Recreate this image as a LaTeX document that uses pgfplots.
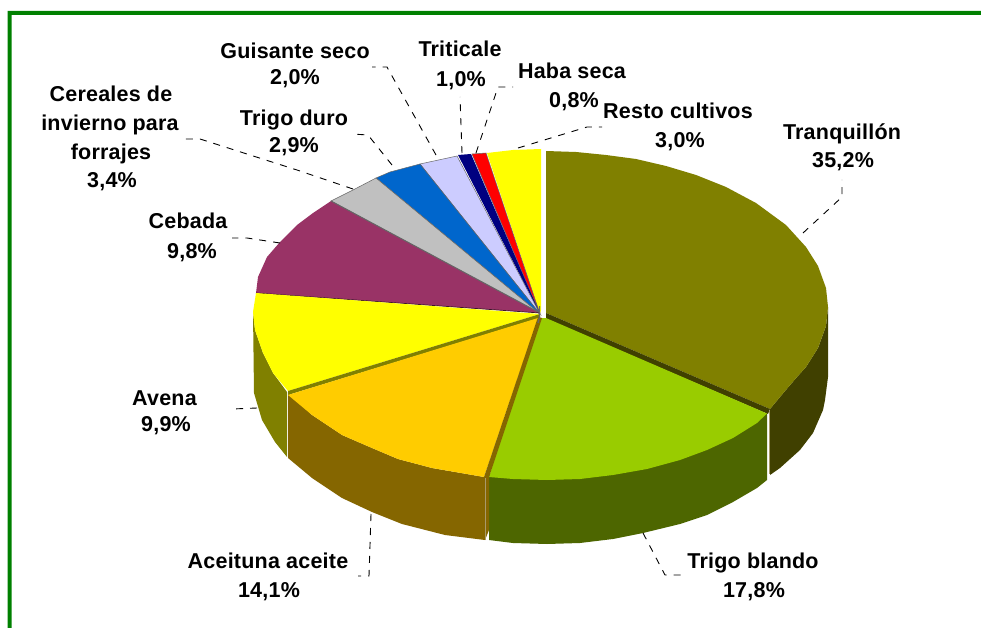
\documentclass[border=0pt]{standalone}
\usepackage{fontspec}
\setmainfont{Liberation Sans}[LetterSpace=1]
\usepackage{pgfplots}
\pgfplotsset{compat=1.18}
\definecolor{frame}{HTML}{008000}
\definecolor{olivetop}{HTML}{808000}
\definecolor{oliveside}{HTML}{404000}
\definecolor{greentop}{HTML}{99CC00}
\definecolor{greenside}{HTML}{4D6600}
\definecolor{orangetop}{HTML}{FFCC00}
\definecolor{orangeside}{HTML}{856600}
\definecolor{tanline}{HTML}{A89A6A}
\definecolor{yellowtop}{HTML}{FFFF00}
\definecolor{redtop}{HTML}{FF0000}
\definecolor{purpletop}{HTML}{993366}
\definecolor{greytop}{HTML}{C0C0C0}
\definecolor{bluetop}{HTML}{0066CC}
\definecolor{lavtop}{HTML}{CCCCFF}
\definecolor{navytop}{HTML}{000080}
\definecolor{edge}{HTML}{666666}
\tikzset{
    leader/.style={black, line width=0.9pt, dash pattern=on 7pt off 7pt},
    lbl/.style={anchor=base, inner sep=0pt, font=\fontsize{21.5}{21.5}\selectfont\bfseries},
}
\begin{document}
\begin{tikzpicture}
\begin{axis}[
    width=981pt, height=628pt, scale only axis,
    xmin=0, xmax=981, ymin=0, ymax=628,
    y dir=reverse, hide axis, no markers,
]
% white page and frame
\addplot[fill=white, draw=none] coordinates {(0,0) (981,0) (981,628) (0,628)};
\addplot[fill=frame, draw=none] coordinates {(7.5,11) (981,11) (981,15) (11.5,15) (11.5,628) (7.5,628)};

% side walls
\addplot[fill=oliveside, draw=none] coordinates {(828,307) (826,326) (818,348) (806,367) (797,377) (785,391) (770,409) (770,475) (780,468) (800,450) (813,433) (823,410) (825,400) (828,377)};
\addplot[fill=greenside, draw=none] coordinates {(767,412) (757,421) (733,436) (707,448) (680,458) (647,467) (613,473) (580,477) (547,478) (513,477) (489,475) (489,540) (513,543) (547,544) (580,543) (613,539) (643,533) (680,524) (707,515) (733,502) (757,488) (767,480)};
\addplot[tanline, line width=0.8pt] coordinates {(769,411) (769,474)};
\addplot[fill=orangeside, draw=none] coordinates {(288,393) (312,415) (342,435) (372,448) (398,459) (432,468) (484,477) (489,477) (489,530) (485,540) (445,535) (402,524) (372,512) (342,498) (312,478) (288,458)};
\addplot[tanline, line width=0.8pt] coordinates {(485,478) (485,540)};
\addplot[fill=olivetop, draw=none] coordinates {(253,312) (255,330) (263,353) (273,373) (287,392) (287,457) (275,442) (262,420) (254,393)};

% top faces, back row
\addplot[fill=yellowtop, draw=none] coordinates {(540,314) (487,153) (513,150) (541,149) (541,310)};
\addplot[fill=redtop, draw=edge, line width=0.5pt] coordinates {(540,314) (472,154) (486,153)} --cycle;
\addplot[fill=navytop, draw=none] coordinates {(540,314) (458,155) (471,154)};
\addplot[fill=lavtop, draw=edge, line width=0.5pt] coordinates {(540,314) (420,164) (457,156)} --cycle;
\addplot[fill=bluetop, draw=edge, line width=0.5pt] coordinates {(540,314) (376,178) (390,172) (420,164)} --cycle;
\addplot[fill=greytop, draw=edge, line width=0.5pt] coordinates {(540,314) (331,201) (353,190) (376,178)} --cycle;
\addplot[fill=purpletop, draw=none] coordinates {(540,313) (256,293) (258,277) (267,257) (280,242) (297,225) (313,213) (331,201)};
\addplot[edge, line width=1pt] coordinates {(331,201) (540,313)};
\addplot[black!60!purpletop, line width=0.7pt] coordinates {(256,293) (540,313)};
\addplot[fill=yellowtop, draw=none] coordinates {(540,314) (256,293) (253,312) (255,330) (263,353) (273,373) (288,391)};
\addplot[fill=olivetop, draw=none] coordinates {(288,391) (540,314) (540,318) (288,395)};

% top faces, front row
\addplot[fill=olivetop, draw=none] coordinates {(546,151) (576,152) (606,155) (636,159) (666,166) (696,175) (726,187) (756,203) (786,225) (806,247) (818,266) (826,288) (828,307) (826,326) (818,348) (806,367) (797,377) (785,391) (770,409) (546,313)};
\addplot[fill=oliveside, draw=none] coordinates {(546,313) (770,409) (768,414) (546,319)};
\addplot[fill=greentop, draw=none] coordinates {(542,318) (546,318) (767,413.5) (757,423) (733,438) (707,450) (680,460) (647,469) (613,475) (580,479) (547,480) (513,479) (489,477) (534,330)};
\addplot[fill=orangetop, draw=none] coordinates {(538,318) (288,395) (312,415) (342,435) (372,448) (398,459) (432,468) (484,477)};
\addplot[fill=orangeside, draw=none] coordinates {(538,317) (542,318) (489,477) (484,477)};
\addplot[edge, line width=1.4pt] coordinates {(539.5,306) (539.5,317) (538,323)};

% leader lines
\addplot[leader] coordinates {(803,233) (842,197) (842,180)};
\addplot[leader] coordinates {(643,533) (665,575) (682,575)};
\addplot[leader] coordinates {(371,514) (369,576) (358,576)};
\addplot[leader] coordinates {(257,408) (232,409)};
\addplot[leader] coordinates {(280,243) (247,238) (232,238)};
\addplot[leader] coordinates {(353,189) (297,170) (200,139) (183,139)};
\addplot[leader] coordinates {(392,165) (368,135) (352,134)};
\addplot[leader] coordinates {(436,155) (387,67) (372,67)};
\addplot[leader] coordinates {(462,153) (460,97)};
\addplot[leader] coordinates {(476,153) (498,87) (513,87)};
\addplot[leader] coordinates {(518,148) (587,127) (602,127)};

% labels
\node[lbl] at (axis cs:295,59) {Guisante seco};
\node[lbl] at (axis cs:295,85) {2,0\%};
\node[lbl] at (axis cs:460,57) {Triticale};
\node[lbl] at (axis cs:461,87) {1,0\%};
\node[lbl] at (axis cs:572,79) {Haba seca};
\node[lbl] at (axis cs:574,108) {0,8\%};
\node[lbl] at (axis cs:678,119) {Resto cultivos};
\node[lbl] at (axis cs:680,148) {3,0\%};
\node[lbl] at (axis cs:842,140) {Tranquillón};
\node[lbl] at (axis cs:843,168) {35,2\%};
\node[lbl] at (axis cs:111,102) {Cereales de};
\node[lbl] at (axis cs:110,131) {invierno para};
\node[lbl] at (axis cs:111,160) {forrajes};
\node[lbl] at (axis cs:112,188) {3,4\%};
\node[lbl] at (axis cs:294,126) {Trigo duro};
\node[lbl] at (axis cs:294,153) {2,9\%};
\node[lbl] at (axis cs:188,229) {Cebada};
\node[lbl] at (axis cs:192,258) {9,8\%};
\node[lbl] at (axis cs:164.5,405) {Avena};
\node[lbl] at (axis cs:166,431) {9,9\%};
\node[lbl] at (axis cs:268,568) {Aceituna aceite};
\node[lbl] at (axis cs:269,597) {14,1\%};
\node[lbl] at (axis cs:753,568) {Trigo blando};
\node[lbl] at (axis cs:754,597) {17,8\%};
\end{axis}
\end{tikzpicture}
\end{document}
